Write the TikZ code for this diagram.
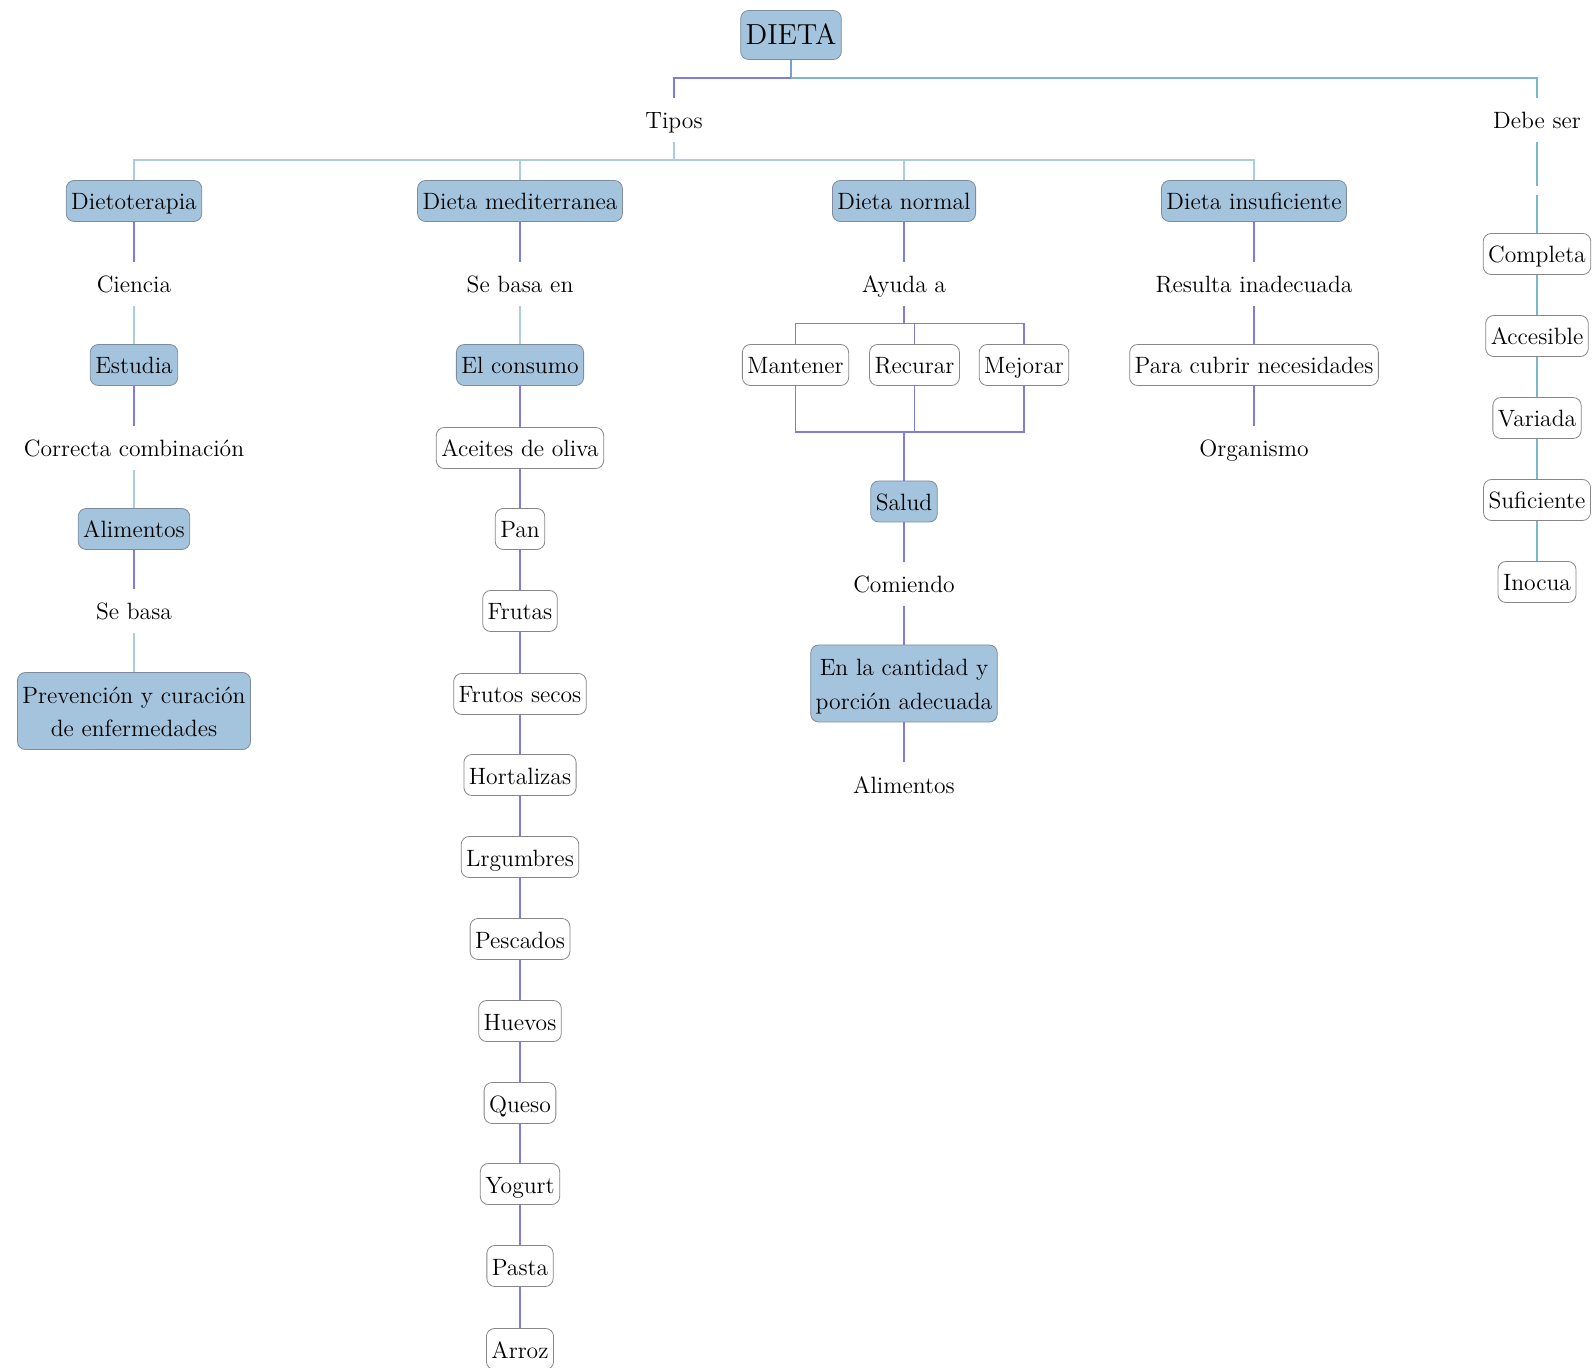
\documentclass[tikz,border=0pt]{standalone}
\usepackage{tikz}
\usetikzlibrary{positioning,calc}
\usepackage{xcolor}

\definecolor{boxfill}{RGB}{164,196,222}
\definecolor{boxline}{RGB}{125,140,158}
\definecolor{wline}{RGB}{135,135,135}
\definecolor{cpurple}{RGB}{125,125,222}
\definecolor{clight}{RGB}{170,205,228}
\definecolor{cteal}{RGB}{122,182,204}
\definecolor{csteel}{RGB}{118,160,198}

\newcommand{\dietfont}{\fontsize{11.8}{17}\selectfont}
\newcommand{\dietbig}{\fontsize{14.5}{17}\selectfont}

\begin{document}
\begin{tikzpicture}[x=0.5pt, y=-0.5pt,
    box/.style={draw=boxline, fill=boxfill, rounded corners=4pt, minimum height=20.5pt,
        inner xsep=2.5pt, inner ysep=0pt, font=\dietfont, align=center,
        text height=11pt, text depth=2pt},
    twoline/.style={minimum height=38.5pt, text height=28pt, text depth=2pt},
    wbox/.style={box, fill=white, draw=wline},
    lbl/.style={inner sep=0pt, minimum height=22pt, font=\dietfont,
        text height=11pt, text depth=2pt},
    lp/.style={draw=cpurple, line width=0.7pt},
    lb/.style={draw=clight, line width=0.7pt},
    lt/.style={draw=cteal, line width=0.7pt}]
    \useasboundingbox (0,0) rectangle (1595,1368);

    % Top
    \node[box, font=\dietbig, minimum height=24.5pt, text height=10.5pt, text depth=1pt] (dieta) at (791,35) {DIETA};
    \coordinate (jtop) at (791,78);
    \node[lbl] (tipos) at (674,120) {Tipos};
    \node[lbl] (debe) at (1537,120) {Debe ser};
    \draw[draw=csteel, line width=0.7pt] (dieta) -- (jtop);
    \draw[lp] (jtop) -| (tipos);
    \draw[lt] (jtop) -| (debe);

    % Types
    \coordinate (jtipos) at (674,160);
    \node[box] (dieto) at (134,201) {Dietoterapia};
    \node[box] (medit) at (520,201) {Dieta mediterranea};
    \node[box] (normal) at (904,201) {Dieta normal};
    \node[box] (insuf) at (1254,201) {Dieta insuficiente};
    \draw[lb] (tipos) -- (jtipos);
    \draw[lb] (jtipos) -| (dieto);
    \draw[lb] (jtipos) -| (medit);
    \draw[lb] (jtipos) -| (normal);
    \draw[lb] (jtipos) -| (insuf);

    % Dietoterapia
    \node[lbl] (ciencia) at (134,284) {Ciencia};
    \node[box] (estudia) at (134,365) {Estudia};
    \node[lbl] (correcta) at (134,448) {Correcta combinación};
    \node[box] (alim) at (134,529) {Alimentos};
    \node[lbl] (sebasa) at (134,611) {Se basa};
    \node[box, twoline] (prev) at (134,711) {Prevención y curación\\de enfermedades};
    \draw[lp] (dieto) -- (ciencia);
    \draw[lb] (ciencia) -- (estudia);
    \draw[lp] (estudia) -- (correcta);
    \draw[lb] (correcta) -- (alim);
    \draw[lp] (alim) -- (sebasa);
    \draw[lb] (sebasa) -- (prev);

    % Dieta mediterranea
    \node[lbl] (basaen) at (520,284) {Se basa en};
    \node[box] (consumo) at (520,365) {El consumo};
    \node[wbox] (aceite) at (520,448) {Aceites de oliva};
    \node[wbox] (pan) at (520,529) {Pan};
    \node[wbox] (frutas) at (520,611) {Frutas};
    \node[wbox] (secos) at (520,694) {Frutos secos};
    \node[wbox] (hort) at (520,775) {Hortalizas};
    \node[wbox] (legum) at (520,857) {Lrgumbres};
    \node[wbox] (pesc) at (520,939) {Pescados};
    \node[wbox] (huevos) at (520,1021) {Huevos};
    \node[wbox] (queso) at (520,1103) {Queso};
    \node[wbox] (yogurt) at (520,1184) {Yogurt};
    \node[wbox] (pasta) at (520,1266) {Pasta};
    \node[wbox] (arroz) at (520,1349) {Arroz};
    \draw[lp] (medit) -- (basaen);
    \draw[lb] (basaen) -- (consumo);
    \draw[lp] (consumo) -- (aceite);
    \draw[lp] (aceite) -- (pan);
    \draw[lp] (pan) -- (frutas);
    \draw[lp] (frutas) -- (secos);
    \draw[lp] (secos) -- (hort);
    \draw[lp] (hort) -- (legum);
    \draw[lp] (legum) -- (pesc);
    \draw[lp] (pesc) -- (huevos);
    \draw[lp] (huevos) -- (queso);
    \draw[lp] (queso) -- (yogurt);
    \draw[lp] (yogurt) -- (pasta);
    \draw[lp] (pasta) -- (arroz);

    % Dieta normal
    \node[lbl] (ayuda) at (904,284) {Ayuda a};
    \coordinate (jayuda) at (904,323.5);
    \node[wbox] (mant) at (795.5,365) {Mantener};
    \node[wbox] (recu) at (914.5,365) {Recurar};
    \node[wbox] (mejo) at (1024,365) {Mejorar};
    \coordinate (jsalud) at (904,432);
    \node[box] (salud) at (904,501.5) {Salud};
    \node[lbl] (comiendo) at (904,584) {Comiendo};
    \node[box, twoline] (cantidad) at (904,683.5) {En la cantidad y\\porción adecuada};
    \node[lbl] (alim2) at (904,784) {Alimentos};
    \draw[lp] (normal) -- (ayuda);
    \draw[lp] (ayuda) -- (jayuda);
    \draw[lp] (jayuda) -| (mant);
    \draw[lp] (jayuda) -| (recu);
    \draw[lp] (jayuda) -| (mejo);
    \draw[lp] (mant) |- (jsalud);
    \draw[lp] (recu) |- (jsalud);
    \draw[lp] (mejo) |- (jsalud);
    \draw[lp] (jsalud) -- (salud);
    \draw[lp] (salud) -- (comiendo);
    \draw[lp] (comiendo) -- (cantidad);
    \draw[lp] (cantidad) -- (alim2);

    % Dieta insuficiente
    \node[lbl] (resulta) at (1254,284) {Resulta inadecuada};
    \node[wbox] (cubrir) at (1254,365) {Para cubrir necesidades};
    \node[lbl] (organ) at (1254,448) {Organismo};
    \draw[lp] (insuf) -- (resulta);
    \draw[lp] (resulta) -- (cubrir);
    \draw[lp] (cubrir) -- (organ);

    % Debe ser
    \coordinate (dgap1) at (1537,186);
    \coordinate (dgap2) at (1537,195);
    \node[wbox] (compl) at (1537,254) {Completa};
    \node[wbox] (acces) at (1537,336) {Accesible};
    \node[wbox] (variada) at (1537,418) {Variada};
    \node[wbox] (sufic) at (1537,500) {Suficiente};
    \node[wbox] (inocua) at (1537,582) {Inocua};
    \draw[lt] (debe) -- (dgap1);
    \draw[lt] (dgap2) -- (compl);
    \draw[lt] (compl) -- (acces);
    \draw[lt] (acces) -- (variada);
    \draw[lt] (variada) -- (sufic);
    \draw[lt] (sufic) -- (inocua);
\end{tikzpicture}
\end{document}
